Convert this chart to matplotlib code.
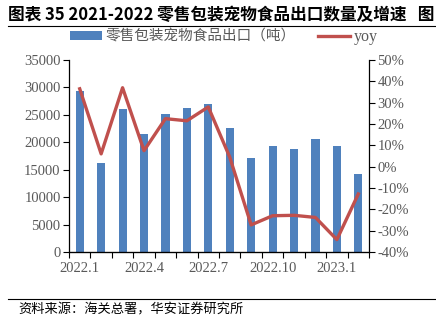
import numpy as np
import matplotlib
matplotlib.use("Agg")
from matplotlib import pyplot as plt
from matplotlib.lines import Line2D
from matplotlib.patches import Patch
from matplotlib.ticker import FixedLocator

plt.rcParams['font.family'] = ['Noto Sans CJK SC', 'DejaVu Sans']

# 月份与数据
months = ['2022.1', '2022.2', '2022.3', '2022.4', '2022.5', '2022.6', '2022.7',
          '2022.8', '2022.9', '2022.10', '2022.11', '2022.12', '2023.1', '2023.2']
volume = [29400, 16300, 26000, 21600, 25200, 26200, 27000,
          22600, 17200, 19400, 18800, 20600, 19400, 14200]
yoy = [36.5, 6.0, 37.0, 7.5, 22.5, 21.5, 28.0,
       4.5, -27.3, -23.0, -22.8, -23.8, -34.2, -12.8]
shown_ticks = ['2022.1', '2022.4', '2022.7', '2022.10', '2023.1']

bar_color = '#4F81BD'
line_color = '#C0504D'
tick_gray = '#595959'
serif = 'Liberation Serif'

fig = plt.figure(figsize=(4.36, 3.27), dpi=100)
ax = fig.add_axes([69 / 436, 1 - 252 / 327, 300 / 436, 192 / 327])
ax2 = ax.twinx()

x = np.arange(len(months))
ax.bar(x, volume, width=0.38, color=bar_color, zorder=2)
ax2.plot(x, yoy, color=line_color, linewidth=2.4, zorder=3)

ax.set_xlim(-0.5, len(months) - 0.5)
ax.set_ylim(0, 35000)
ax.set_yticks(np.arange(0, 35001, 5000))
ax2.set_ylim(-40, 50)
ax2.set_yticks(np.arange(-40, 51, 10))
ax2.set_yticklabels([f'{v}%' for v in range(-40, 51, 10)])

# x 轴：分类间隔处画刻度，标签只显示部分月份
ax.set_xticks([months.index(m) for m in shown_ticks])
ax.set_xticklabels(shown_ticks)
ax.tick_params(axis='x', which='major', length=0, pad=7)
ax.xaxis.set_minor_locator(FixedLocator(np.arange(-0.5, len(months), 1.0)))
ax.tick_params(axis='x', which='minor', length=4, width=0.8, direction='out')

ax.tick_params(axis='y', length=4, width=0.8, direction='out', pad=2)
ax2.tick_params(axis='y', length=4, width=0.8, direction='out', pad=2)

for a in (ax, ax2):
    for lab in a.get_xticklabels() + a.get_yticklabels():
        lab.set_fontfamily(serif)
        lab.set_fontsize(10.5)
        lab.set_color(tick_gray)
    a.spines['top'].set_visible(False)
ax.spines['right'].set_visible(False)
ax2.spines['left'].set_visible(False)
for s in ('left', 'bottom'):
    ax.spines[s].set_linewidth(0.9)
ax2.spines['right'].set_linewidth(0.9)

# 图例
handles = [Patch(facecolor=bar_color, edgecolor='none'),
           Line2D([0], [0], color=line_color, linewidth=2.4)]
leg = fig.legend(handles, ['零售包装宠物食品出口（吨）', 'yoy'],
                 loc='center left', bbox_to_anchor=(70 / 436, 1 - 37 / 327), ncol=2,
                 frameon=False, fontsize=10.5, handlelength=2.2, handleheight=0.6,
                 columnspacing=1.5, handletextpad=0.25, borderpad=0, borderaxespad=0)
for t in leg.get_texts():
    t.set_color(tick_gray)
leg.get_texts()[1].set_fontfamily(serif)
leg.get_texts()[1].set_fontsize(11.5)

# 标题与来源
fig.text(8 / 436, 1 - 15 / 327, '图表 35 2021-2022 零售包装宠物食品出口数量及增速   图',
         fontsize=12, fontweight='bold', va='center', ha='left')
fig.add_artist(Line2D([8 / 436, 1.0], [1 - 26 / 327, 1 - 26 / 327],
                      color='black', linewidth=0.8))
fig.add_artist(Line2D([8 / 436, 1.0], [1 - 299 / 327, 1 - 299 / 327],
                      color='black', linewidth=0.8))
fig.text(18 / 436, 1 - 310 / 327, '资料来源：海关总署，华安证券研究所',
         fontsize=9.5, va='center', ha='left')

fig.savefig('out.png', dpi=100)
